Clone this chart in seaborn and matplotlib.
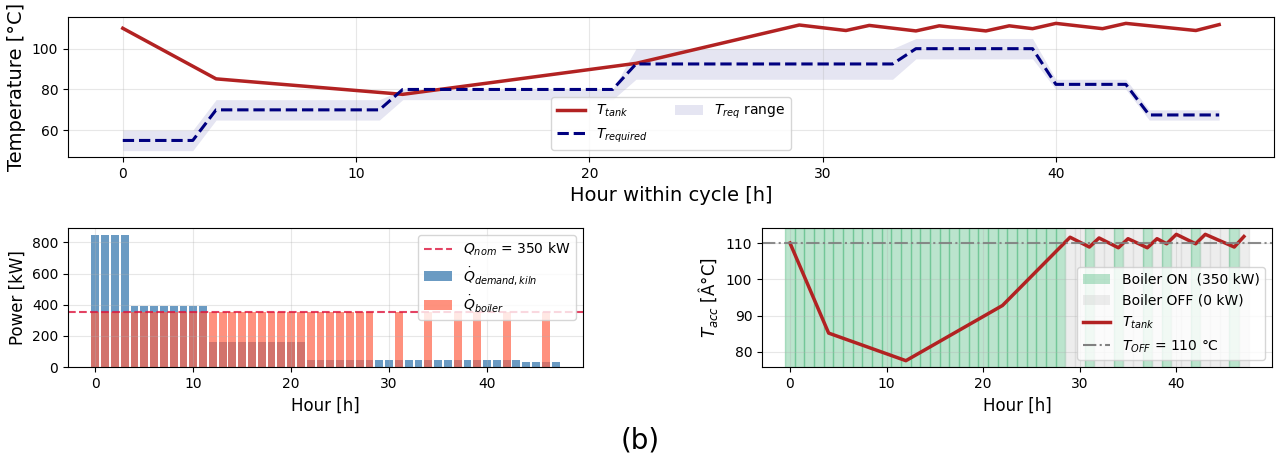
import matplotlib
matplotlib.use("Agg")
import numpy as np
import seaborn as sns
from matplotlib import pyplot as plt
from matplotlib.patches import Patch
from matplotlib.lines import Line2D

# tank temperature (vertices of the trajectory)
tank_hours = [0, 4, 12, 22, 29, 31, 32, 34, 35, 37, 38, 39, 40, 42, 43, 46, 47]
tank_temps = [110, 85.2, 77.6, 92.8, 111.6, 108.9, 111.4, 108.7, 111.2,
              108.7, 111.2, 109.8, 112.4, 109.8, 112.4, 108.9, 111.8]

# hourly requirement and accepted range
hours = list(range(48))
t_required = [55]*4 + [70]*8 + [80]*10 + [92.5]*12 + [100]*6 + [82.5]*4 + [67.5]*4
t_low = [50]*4 + [65]*8 + [75]*10 + [85]*12 + [95]*6 + [80]*4 + [65]*4
t_high = [60]*4 + [75]*8 + [80]*10 + [100]*12 + [105]*6 + [85]*4 + [70]*4

# hourly power
q_demand = [850]*4 + [390]*8 + [160]*10 + [45]*22 + [30]*4
boiler_on_hours = list(range(29)) + [31, 34, 37, 39, 42, 46]
q_boiler = [350 if h in boiler_on_hours else 0 for h in hours]
q_nom = 350
t_off = 110

plt.rcParams['font.size'] = 10
fig = plt.figure(figsize=(12.8, 4.61), dpi=100)

ax_top = fig.add_axes([0.0531, 0.6594, 0.9422, 0.3037])
ax_p = fig.add_axes([0.0531, 0.2039, 0.4023, 0.3015])
ax_t = fig.add_axes([0.5953, 0.2039, 0.3984, 0.3015])

# --- top: temperatures over the cycle
ax_top.fill_between(hours, t_low, t_high, color='navy', alpha=0.1, lw=0)
sns.lineplot(x=tank_hours, y=tank_temps, color='firebrick', lw=2.5, ax=ax_top)
sns.lineplot(x=hours, y=t_required, color='navy', lw=2.2, linestyle='--', ax=ax_top)
ax_top.set_xlabel('Hour within cycle [h]', fontsize=14)
ax_top.set_ylabel('Temperature [°C]', fontsize=14)
ax_top.grid(alpha=0.3)
h_top = [Line2D([], [], color='firebrick', lw=2.5),
         Line2D([], [], color='navy', lw=2.2, linestyle='--'),
         Patch(facecolor='navy', alpha=0.1)]
ax_top.legend(h_top, [r'$T_{tank}$', r'$T_{required}$', r'$T_{req}$ range'],
              loc='lower center', ncol=2, fontsize=10)

# --- bottom left: power
sns.barplot(x=hours, y=q_demand, native_scale=True, color='steelblue', alpha=0.8,
            saturation=1, linewidth=0, errorbar=None, ax=ax_p)
sns.barplot(x=hours, y=q_boiler, native_scale=True, color='tomato', alpha=0.7,
            saturation=1, linewidth=0, errorbar=None, ax=ax_p)
ax_p.axhline(q_nom, color='crimson', alpha=0.8, linestyle='--', lw=1.5)
ax_p.set_xlim(-2.79, 49.79)
ax_p.set_xlabel('Hour [h]', fontsize=12)
ax_p.set_ylabel('Power [kW]', fontsize=12)
ax_p.grid(alpha=0.3)
h_p = [Line2D([], [], color='crimson', alpha=0.8, linestyle='--', lw=1.5),
       Patch(facecolor='steelblue', alpha=0.8),
       Patch(facecolor='tomato', alpha=0.7)]
ax_p.legend(h_p, [r'$Q_{nom}$ = 350 kW', r'$\dot{Q}_{demand,kiln}$', r'$\dot{Q}_{boiler}$'],
            loc='upper right', fontsize=10)

# --- bottom right: boiler state and tank temperature
for h in hours:
    if h in boiler_on_hours:
        ax_t.axvspan(h - 0.5, h + 0.5, color='mediumseagreen', alpha=0.35)
    else:
        ax_t.axvspan(h - 0.5, h + 0.5, color='lightgray', alpha=0.4)
sns.lineplot(x=tank_hours, y=tank_temps, color='firebrick', lw=2.5, ax=ax_t)
ax_t.axhline(t_off, color='gray', linestyle='-.', lw=1.5, alpha=0.9)
ax_t.set_xlabel('Hour [h]', fontsize=12)
ax_t.set_ylabel(r'$T_{acc}$ [Â°C]', fontsize=12)
ax_t.grid(alpha=0.3)
h_t = [Patch(facecolor='mediumseagreen', alpha=0.35),
       Patch(facecolor='lightgray', alpha=0.4),
       Line2D([], [], color='firebrick', lw=2.5),
       Line2D([], [], color='gray', linestyle='-.', lw=1.5)]
ax_t.legend(h_t, ['Boiler ON  (350 kW)', 'Boiler OFF (0 kW)', r'$T_{tank}$',
                  r'$T_{OFF}$ = 110 °C'], loc='lower right', fontsize=10)

fig.text(0.5, 0.045, '(b)', ha='center', va='center', fontsize=20)

plt.savefig('out.png', dpi=100)
